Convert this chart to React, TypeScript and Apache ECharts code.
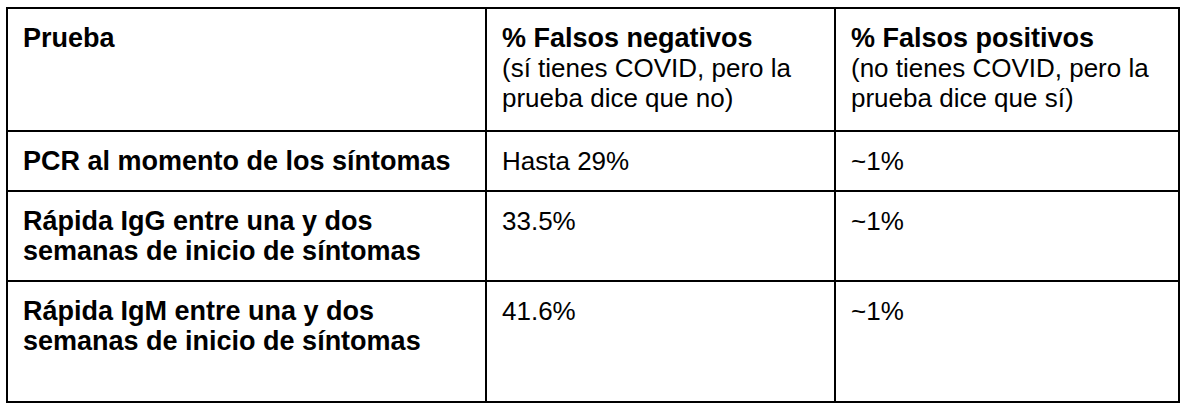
import React, { useEffect, useRef } from 'react';
import * as echarts from 'echarts';

const columnTitles = ['Prueba', '% Falsos negativos', '% Falsos positivos'];
const columnNotes = ['', '(sí tienes COVID, pero la\nprueba dice que no)', '(no tienes COVID, pero la\nprueba dice que sí)'];
const tests = [
  'PCR al momento de los síntomas',
  'Rápida IgG entre una y dos\nsemanas de inicio de síntomas',
  'Rápida IgM entre una y dos\nsemanas de inicio de síntomas'
];
const falseNegatives = ['Hasta 29%', '33.5%', '41.6%'];
const falsePositives = ['~1%', '~1%', '~1%'];

// table grid
const colX = [7, 486, 835, 1179];
const rowY = [8, 131, 191, 281, 402];
const padX = 16;
const padY = 15;
const FONT = '"Liberation Sans", Arial, Helvetica, sans-serif';
const LH = 30;

const txt = (x: number, y: number, text: string, bold: boolean) => ({
  type: 'text',
  x,
  y,
  style: {
    text,
    fontFamily: FONT,
    fontSize: bold ? 27 : 26,
    fontWeight: bold ? 'bold' : 'normal',
    lineHeight: LH,
    fill: '#000',
    verticalAlign: 'top'
  }
});

const ResultsTable: React.FC = () => {
  const chartRef = useRef<HTMLDivElement>(null);

  useEffect(() => {
    const chart = echarts.init(chartRef.current!, null, { renderer: 'svg' });

    const elements: any[] = [];

    // header
    columnTitles.forEach((t, i) => {
      elements.push(txt(colX[i] + padX, rowY[0] + padY, t, true));
      if (columnNotes[i]) {
        elements.push(txt(colX[i] + padX, rowY[0] + padY + LH, columnNotes[i], false));
      }
    });

    // body rows
    tests.forEach((t, r) => {
      const y = rowY[r + 1] + padY;
      elements.push(txt(colX[0] + padX, y, t, true));
      elements.push(txt(colX[1] + padX, y, falseNegatives[r], false));
      elements.push(txt(colX[2] + padX, y, falsePositives[r], false));
    });

    // borders
    const line = { stroke: '#000', lineWidth: 2 };
    rowY.forEach(y => {
      elements.push({ type: 'line', shape: { x1: colX[0], y1: y, x2: colX[3], y2: y }, style: line });
    });
    colX.forEach(x => {
      elements.push({ type: 'line', shape: { x1: x, y1: rowY[0] - 1, x2: x, y2: rowY[4] + 1 }, style: line });
    });

    chart.setOption({
      animation: false,
      backgroundColor: '#fff',
      graphic: { elements }
    });

    return () => {
      chart.dispose();
    };
  }, []);

  return (
    <div
      ref={chartRef}
      style={{ position: 'absolute', left: 0, top: 0, width: '1184px', height: '411px' }}
    />
  );
};

export default function App() {
  return <ResultsTable />;
}
